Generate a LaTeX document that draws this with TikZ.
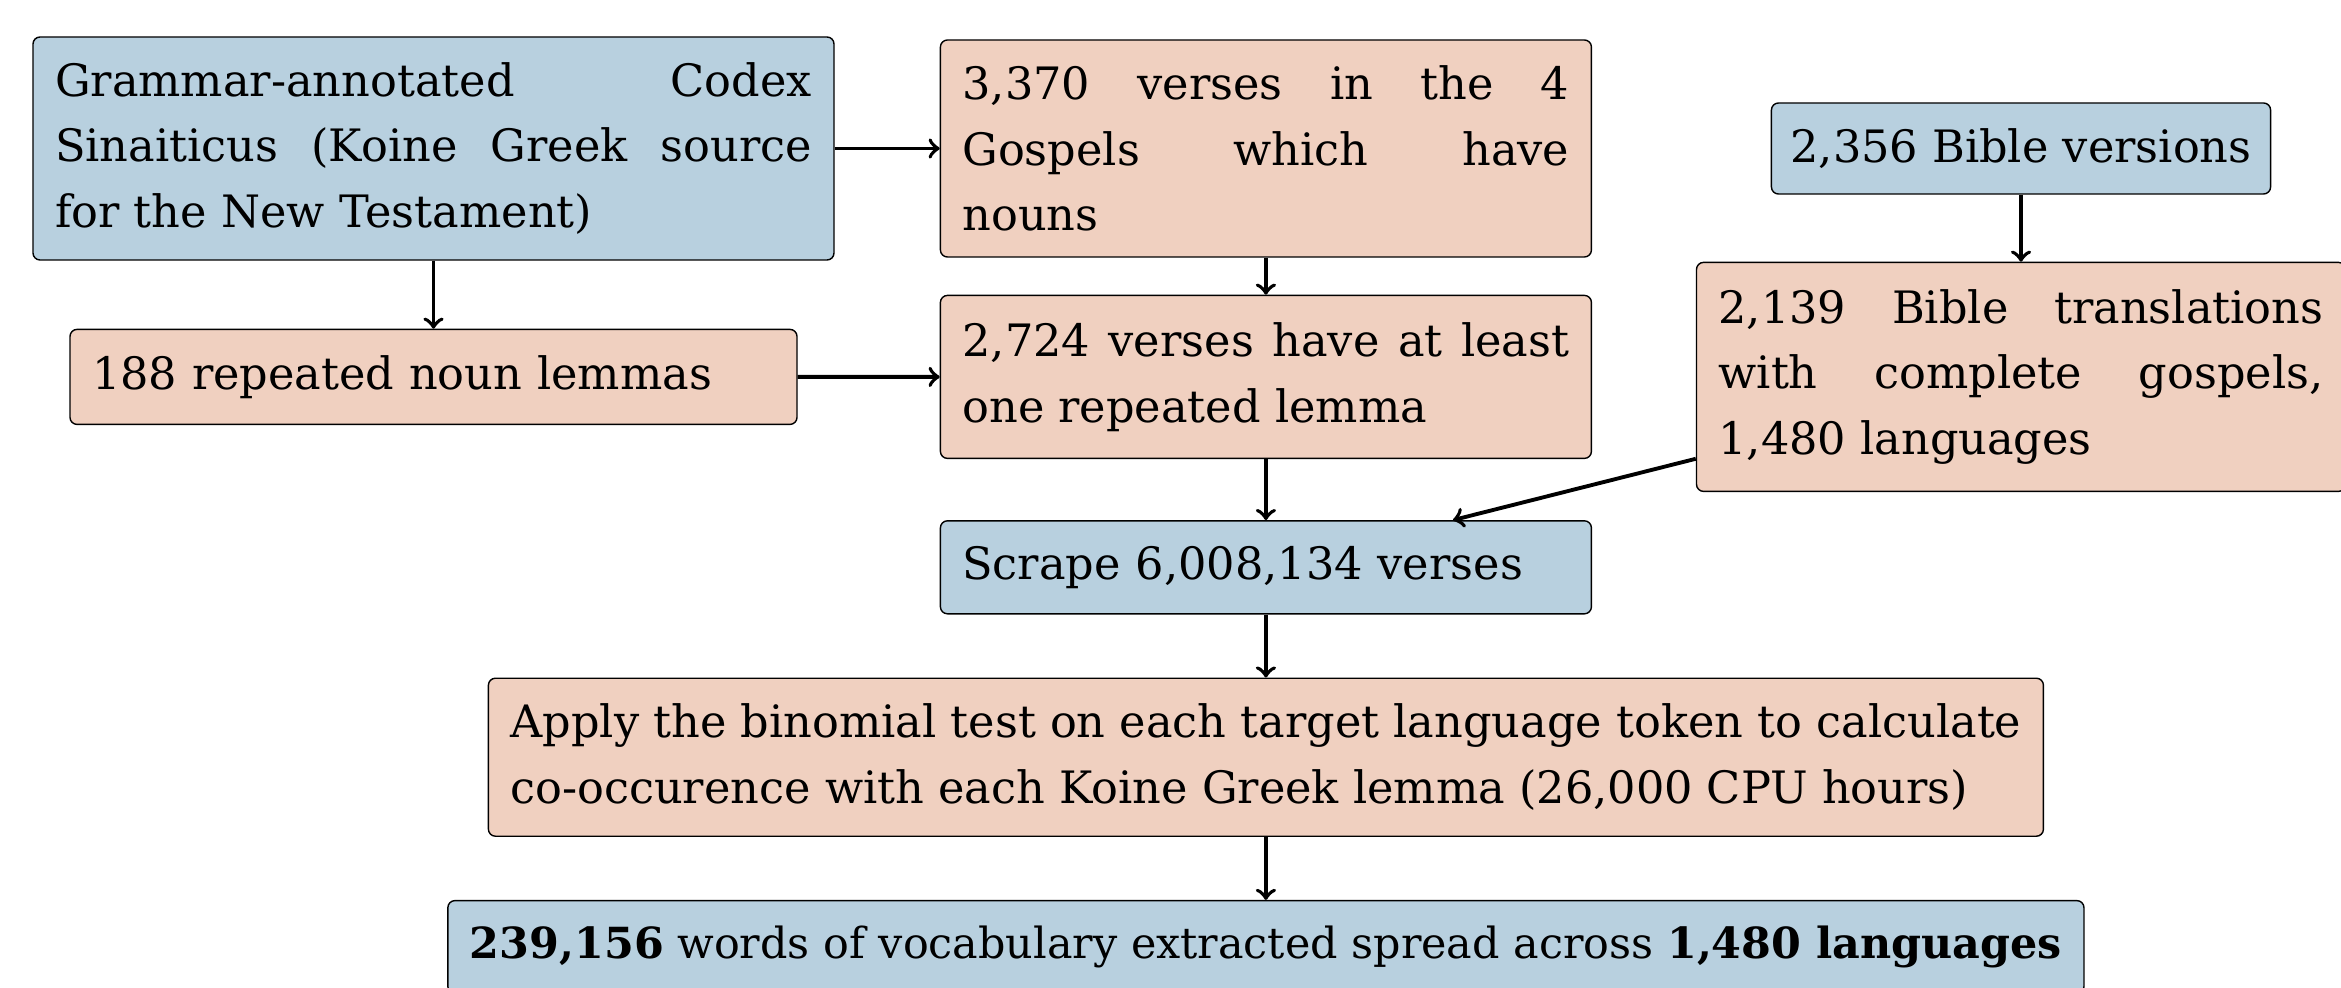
\documentclass[tikz,border=0pt]{standalone}
\usepackage{fontspec}
\setmainfont{DejaVu Serif}
\usepackage{xcolor}
\usepackage{tikz}
\usetikzlibrary{positioning}

\definecolor{boxblue}{HTML}{B8D0DF}
\definecolor{boxpeach}{HTML}{F0D0C0}

\begin{document}
\begin{tikzpicture}[
  box/.style={draw, rounded corners=2pt, inner xsep=0.22cm, inner ysep=0.1cm, align=justify, font=\fontsize{12.7pt}{18.7pt}\selectfont},
  bluebox/.style={box, fill=boxblue},
  peachbox/.style={box, fill=boxpeach},
  flow/.style={->, line width=1.1pt}]
  \useasboundingbox (0,0) rectangle (23.41,-9.88);
  \node[bluebox, text width=7.57cm, minimum height=2.23cm] (Codex) at (4.335,-1.485) {Grammar-annotated Codex\linebreak Sinaiticus (Koine Greek source\linebreak for the New Testament)};  % Source text
  \node[peachbox, text width=6.83cm, minimum height=0.95cm, align=left, below=0.68cm of Codex] (Lemmas) {188 repeated noun lemmas};
  \node[peachbox, text width=6.07cm, minimum height=2.17cm, right=1.05cm of Codex] (Gospels) {3,370 verses in the 4\linebreak Gospels which have\linebreak nouns};
  \node[peachbox, text width=6.07cm, minimum height=1.63cm, below=0.37cm of Gospels] (Repeated) {2,724 verses have at least\linebreak one repeated lemma};
  \node[bluebox, inner xsep=0.19cm, minimum width=4.98cm, minimum height=0.91cm, align=center] (Versions) at (20.21,-1.485) {2,356 Bible versions};  % Bible side
  \node[peachbox, text width=6.05cm, minimum height=2.29cm, below=0.67cm of Versions] (Translations) {2,139 Bible translations\linebreak with complete gospels,\linebreak 1,480 languages};
  \node[bluebox, text width=6.07cm, minimum height=0.93cm, align=left, below=0.61cm of Repeated] (Scrape) {Scrape 6,008,134 verses};
  \node[peachbox, text width=15.11cm, minimum height=1.58cm, below=0.63cm of Scrape] (Binomial) {Apply the binomial test on each target language token to calculate\linebreak co-occurence with each Koine Greek lemma (26,000 CPU hours)};
  \node[bluebox, minimum height=0.93cm, align=center, font=\fontsize{12.2pt}{18pt}\selectfont, below=0.63cm of Binomial] (Vocab) {\textbf{239,156} words of vocabulary extracted spread across \textbf{1,480 languages}};  % Result
  \draw[flow] (Codex) -- (Lemmas);
  \draw[flow] (Codex) -- (Gospels);
  \draw[flow] (Gospels) -- (Repeated);
  \draw[flow] (Lemmas) -- (Repeated);
  \draw[flow] (Versions) -- (Translations);
  \draw[flow] (Repeated) -- (Scrape);
  \draw[flow] (Translations) -- (Scrape);
  \draw[flow] (Scrape) -- (Binomial);
  \draw[flow] (Binomial) -- (Vocab);
\end{tikzpicture}
\end{document}
